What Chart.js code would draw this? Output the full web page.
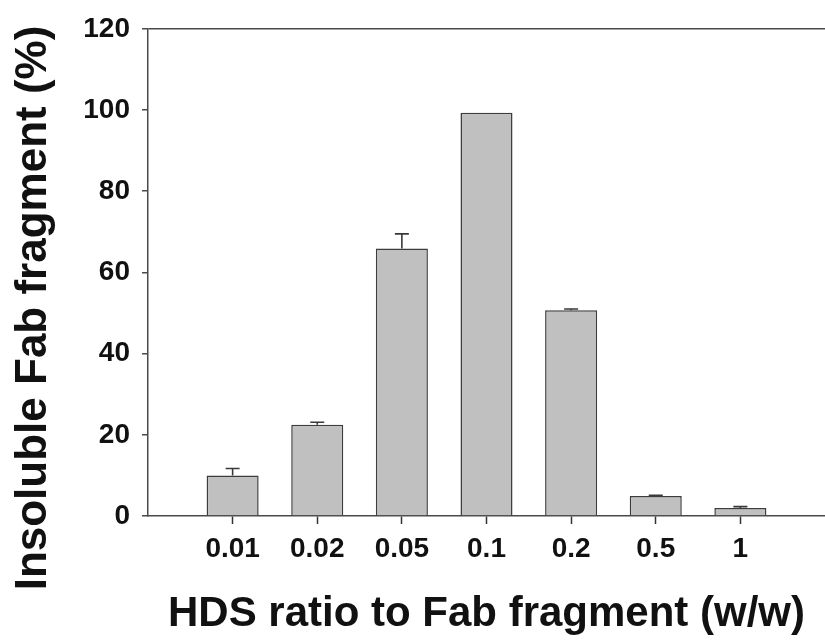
<!DOCTYPE html>
<html>
<head>
<meta charset="utf-8">
<script src="https://cdn.jsdelivr.net/npm/chart.js@4/dist/chart.umd.min.js"></script>
<style>
  html, body { margin: 0; padding: 0; background: #fff; }
  #wrap { width: 825px; height: 640px; position: relative; }
</style>
</head>
<body>
<div id="wrap"><canvas id="c"></canvas></div>
<script>
// HDS : Fab fragment weight ratios tested
const ratios = ['0.01', '0.02', '0.05', '0.1', '0.2', '0.5', '1'];
// Mean insoluble Fab fragment (%) at each ratio
const insoluble = [10.0, 22.5, 65.9, 99.3, 50.7, 4.9, 2.0];
// Upper error (SD) for each mean
const errUp = [1.7, 0.6, 3.6, 0, 0.3, 0.2, 0.3];
// Y axis ticks
const yTicks = [0, 20, 40, 60, 80, 100, 120];
const yTitle = 'Insoluble Fab fragment (%)';
const xTitle = 'HDS ratio to Fab fragment (w/w)';

const FONT = "'Liberation Sans', Arial, sans-serif";
const AXIS = '#4a4a4a';

// Upward-only error bars with a short cap
const errorBars = {
  id: 'errorBars',
  afterDatasetsDraw(chart) {
    const meta = chart.getDatasetMeta(0);
    const y = chart.scales.y;
    const ctx = chart.ctx;
    ctx.save();
    ctx.strokeStyle = '#3a3a3a';
    ctx.lineWidth = 1.6;
    meta.data.forEach((bar, i) => {
      const e = errUp[i];
      if (!e) return;
      const top = y.getPixelForValue(insoluble[i]);
      const yy = y.getPixelForValue(insoluble[i] + e);
      ctx.beginPath();
      ctx.moveTo(bar.x, top);
      ctx.lineTo(bar.x, yy);
      ctx.moveTo(bar.x - 7, yy);
      ctx.lineTo(bar.x + 7, yy);
      ctx.stroke();
    });
    ctx.restore();
  }
};

// Rotated y-axis title, centred a little below the plot's middle
const yAxisTitle = {
  id: 'yAxisTitle',
  afterDraw(chart) {
    const ctx = chart.ctx;
    ctx.save();
    ctx.translate(34, 308);
    ctx.rotate(-Math.PI / 2);
    ctx.font = 'bold 44px ' + FONT;
    ctx.fillStyle = '#111';
    ctx.textAlign = 'center';
    ctx.textBaseline = 'middle';
    ctx.fillText(yTitle, 0, 0);
    ctx.restore();
  }
};

new Chart(document.getElementById('c'), {
  type: 'bar',
  data: {
    datasets: [{
      data: insoluble.map((v, i) => ({ x: i + 1, y: v })),
      backgroundColor: '#c0c0c0',
      borderColor: '#3c3c3c',
      borderWidth: 1.5,
      barPercentage: 0.615,
      categoryPercentage: 1
    }]
  },
  options: {
    responsive: true,
    maintainAspectRatio: false,
    animation: false,
    layout: { padding: { top: 27, right: 0, left: 0, bottom: 0 } },
    plugins: { legend: { display: false }, tooltip: { enabled: false } },
    scales: {
      x: {
        type: 'linear',
        min: 0,
        max: ratios.length + 1,
        offset: false,
        afterBuildTicks: s => { s.ticks = Array.from({ length: ratios.length + 2 }, (_, k) => ({ value: k })); },
        afterFit: s => { s.height = 124; s.paddingRight = 0; s.paddingLeft = 0; },
        border: { display: true, color: AXIS, width: 1.5 },
        grid: {
          offset: false,
          drawOnChartArea: false,
          tickLength: 8,
          tickWidth: 1.5,
          tickColor: c => (c.tick && c.tick.value >= 1 && c.tick.value <= ratios.length) ? '#333' : 'rgba(0,0,0,0)'
        },
        ticks: {
          autoSkip: false,
          maxRotation: 0,
          padding: 8,
          color: '#111',
          font: { family: FONT, size: 28, weight: 'bold' },
          callback: v => (v >= 1 && v <= ratios.length) ? ratios[v - 1] : ''
        },
        title: {
          display: true,
          text: xTitle,
          color: '#111',
          font: { family: FONT, size: 42, weight: 'bold' },
          padding: { top: 4, bottom: 0 }
        }
      },
      y: {
        min: 0,
        max: 120,
        afterBuildTicks: s => { s.ticks = yTicks.map(v => ({ value: v })); },
        afterFit: s => { s.width = 148; },
        border: { display: true, color: AXIS, width: 1.5 },
        grid: {
          drawOnChartArea: true,
          color: c => (c.tick && c.tick.value === 120) ? AXIS : 'rgba(0,0,0,0)',
          lineWidth: 1.5,
          tickLength: 6,
          tickColor: AXIS,
          tickWidth: 1.5
        },
        ticks: {
          padding: 12,
          color: '#111',
          font: { family: FONT, size: 28, weight: 'bold' }
        },
        title: { display: false }
      }
    }
  },
  plugins: [errorBars, yAxisTitle]
});
</script>
</body>
</html>
